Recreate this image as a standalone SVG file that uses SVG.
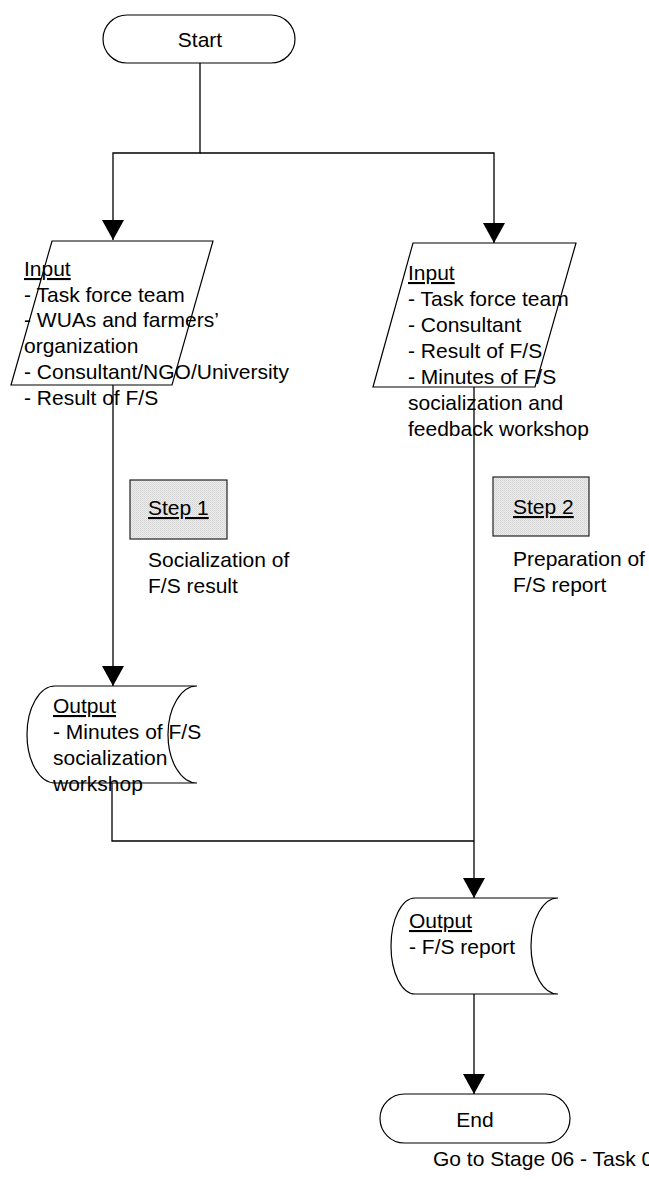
<svg xmlns="http://www.w3.org/2000/svg" width="649" height="1179" viewBox="0 0 649 1179">
  <defs>
    <style>
      .shape { fill: #ffffff; stroke: #000000; stroke-width: 1.2; }
      .step { fill: url(#stipple); stroke: #222222; stroke-width: 1.2; }
      .conn { fill: none; stroke: #000000; stroke-width: 1.3; }
      text { font-family: "Liberation Sans", Arial, sans-serif; font-size: 21px; fill: #000000; }
      .mid { text-anchor: middle; }
      .u { text-decoration: underline; }
    </style>
    <pattern id="stipple" width="2" height="2" patternUnits="userSpaceOnUse">
      <rect width="2" height="2" fill="#ececec"/>
      <rect width="1" height="1" fill="#d4d4d4"/>
      <rect x="1" y="1" width="1" height="1" fill="#dcdcdc"/>
    </pattern>
    <marker id="arrow" markerUnits="userSpaceOnUse" markerWidth="21" markerHeight="22" viewBox="0 0 20 21" refX="19" refY="10.5" orient="auto">
      <path d="M0,0 L19,10.5 L0,21 Z" fill="#000000"/>
    </marker>
  </defs>

  <!-- connectors -->
  <g id="connectors">
    <path class="conn" d="M200,63 V153 H113 V240" marker-end="url(#arrow)"/>
    <path class="conn" d="M200,153 H494 V243" marker-end="url(#arrow)"/>
    <path class="conn" d="M113,385 V686" marker-end="url(#arrow)"/>
    <path class="conn" d="M474,387 V898" marker-end="url(#arrow)"/>
    <path class="conn" d="M112,783 V841 H474"/>
    <path class="conn" d="M474,994 V1094" marker-end="url(#arrow)"/>
  </g>

  <!-- start terminator -->
  <g id="start">
    <rect class="shape" x="103" y="15" width="192" height="48" rx="24" ry="24"/>
    <text class="mid" x="200" y="47">Start</text>
  </g>

  <!-- input of step 1 -->
  <g id="input1">
    <polygon class="shape" points="52,241 213,241 172,385 11,385"/>
    <text x="24" y="276">
      <tspan class="u" x="24" y="276">Input</tspan>
      <tspan x="24" y="301.7">- Task force team</tspan>
      <tspan x="24" y="327.4">- WUAs and farmers’</tspan>
      <tspan x="24" y="353.1">organization</tspan>
      <tspan x="24" y="378.8">- Consultant/NGO/University</tspan>
      <tspan x="24" y="404.5">- Result of F/S</tspan>
    </text>
  </g>

  <!-- input of step 2 -->
  <g id="input2">
    <polygon class="shape" points="413,243 576,243 535,387 373,387"/>
    <text x="408" y="280">
      <tspan class="u" x="408" y="280">Input</tspan>
      <tspan x="408" y="306">- Task force team</tspan>
      <tspan x="408" y="332">- Consultant</tspan>
      <tspan x="408" y="358">- Result of F/S</tspan>
      <tspan x="408" y="384">- Minutes of F/S</tspan>
      <tspan x="408" y="410">socialization and</tspan>
      <tspan x="408" y="436">feedback workshop</tspan>
    </text>
  </g>

  <!-- step 1 -->
  <g id="step1">
    <rect class="step" x="130" y="480" width="97" height="59"/>
    <text class="u" x="148" y="515">Step 1</text>
    <text x="148" y="567">
      <tspan x="148" y="567">Socialization of</tspan>
      <tspan x="148" y="593">F/S result</tspan>
    </text>
  </g>

  <!-- step 2 -->
  <g id="step2">
    <rect class="step" x="493" y="477" width="96" height="59"/>
    <text class="u" x="513" y="514">Step 2</text>
    <text x="513" y="566">
      <tspan x="513" y="566">Preparation of</tspan>
      <tspan x="513" y="592">F/S report</tspan>
    </text>
  </g>

  <!-- output of step 1 -->
  <g id="output1">
    <path class="shape" d="M55,686 H197 A29,48.5 0 0 0 197,783 H55 A28,48.5 0 0 1 55,686 Z"/>
    <text x="53" y="713">
      <tspan class="u" x="53" y="713">Output</tspan>
      <tspan x="53" y="739">- Minutes of F/S</tspan>
      <tspan x="53" y="765">socialization</tspan>
      <tspan x="53" y="791">workshop</tspan>
    </text>
  </g>

  <!-- output of step 2 -->
  <g id="output2">
    <path class="shape" d="M415,898 H558 A27,48 0 0 0 558,994 H415 A24,48 0 0 1 415,898 Z"/>
    <text x="409" y="928">
      <tspan class="u" x="409" y="928">Output</tspan>
      <tspan x="409" y="954">- F/S report</tspan>
    </text>
  </g>

  <!-- end terminator -->
  <g id="end">
    <rect class="shape" x="380" y="1094" width="190" height="49" rx="24.5" ry="24.5"/>
    <text class="mid" x="475" y="1127">End</text>
    <text x="433" y="1166">Go to Stage 06 - Task 0</text>
  </g>
</svg>
